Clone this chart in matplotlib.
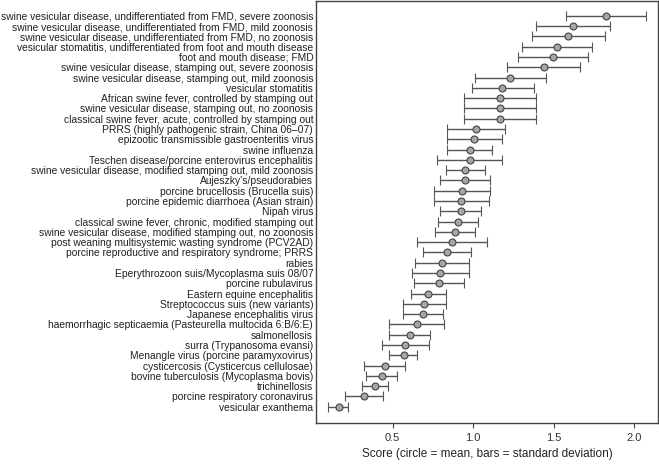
import numpy as np
import matplotlib
matplotlib.use("Agg")
import matplotlib.pyplot as plt

plt.rcParams['font.family'] = ['Liberation Sans', 'DejaVu Sans']

labels = [
    "swine vesicular disease, undifferentiated from FMD, severe zoonosis",
    "swine vesicular disease, undifferentiated from FMD, mild zoonosis",
    "swine vesicular disease, undifferentiated from FMD, no zoonosis",
    "vesicular stomatitis, undifferentiated from foot and mouth disease",
    "foot and mouth disease; FMD",
    "swine vesicular disease, stamping out, severe zoonosis",
    "swine vesicular disease, stamping out, mild zoonosis",
    "vesicular stomatitis",
    "African swine fever, controlled by stamping out",
    "swine vesicular disease, stamping out, no zoonosis",
    "classical swine fever, acute, controlled by stamping out",
    "PRRS (highly pathogenic strain, China 06\u201307)",
    "epizootic transmissible gastroenteritis virus",
    "swine influenza",
    "Teschen disease/porcine enterovirus encephalitis",
    "swine vesicular disease, modified stamping out, mild zoonosis",
    "Aujeszky's/pseudorabies",
    "porcine brucellosis (Brucella suis)",
    "porcine epidemic diarrhoea (Asian strain)",
    "Nipah virus",
    "classical swine fever, chronic, modified stamping out",
    "swine vesicular disease, modified stamping out, no zoonosis",
    "post weaning multisystemic wasting syndrome (PCV2AD)",
    "porcine reproductive and respiratory syndrome; PRRS",
    "rabies",
    "Eperythrozoon suis/Mycoplasma suis 08/07",
    "porcine rubulavirus",
    "Eastern equine encephalitis",
    "Streptococcus suis (new variants)",
    "Japanese encephalitis virus",
    "haemorrhagic septicaemia (Pasteurella multocida 6:B/6:E)",
    "salmonellosis",
    "surra (Trypanosoma evansi)",
    "Menangle virus (porcine paramyxovirus)",
    "cysticercosis (Cysticercus cellulosae)",
    "bovine tuberculosis (Mycoplasma bovis)",
    "trichinellosis",
    "porcine respiratory coronavirus",
    "vesicular exanthema",
]

# lower end of bar, mean, upper end of bar
low = [1.578, 1.392, 1.363, 1.305, 1.280, 1.212, 1.011, 0.991, 0.945, 0.945,
       0.945, 0.835, 0.835, 0.835, 0.777, 0.831, 0.796, 0.759, 0.755, 0.796,
       0.784, 0.765, 0.649, 0.690, 0.641, 0.622, 0.634, 0.612, 0.562, 0.562,
       0.479, 0.479, 0.435, 0.479, 0.324, 0.336, 0.311, 0.206, 0.100]
mean = [1.825, 1.620, 1.591, 1.520, 1.496, 1.440, 1.231, 1.181, 1.166, 1.166,
        1.166, 1.017, 1.007, 0.978, 0.978, 0.951, 0.948, 0.930, 0.926, 0.922,
        0.908, 0.887, 0.868, 0.837, 0.808, 0.796, 0.790, 0.721, 0.696, 0.686,
        0.649, 0.606, 0.578, 0.570, 0.450, 0.432, 0.392, 0.322, 0.165]
high = [2.071, 1.848, 1.821, 1.740, 1.715, 1.665, 1.454, 1.376, 1.390, 1.390,
        1.390, 1.199, 1.179, 1.119, 1.179, 1.075, 1.106, 1.104, 1.098, 1.050,
        1.032, 1.009, 1.088, 0.988, 0.976, 0.972, 0.945, 0.833, 0.833, 0.814,
        0.819, 0.732, 0.724, 0.653, 0.574, 0.529, 0.473, 0.442, 0.224]

mean = np.array(mean)
low = np.array(low)
high = np.array(high)
y = np.arange(len(labels))

fig = plt.figure(figsize=(6.59, 4.67), dpi=100)
ax = fig.add_axes([0.4795, 0.094, 0.5190, 0.904])

ax.errorbar(mean, y, xerr=[mean - low, high - mean], fmt='o', color='#555555',
            ecolor='#555555', elinewidth=1.0, capsize=3.5, capthick=1.0,
            markersize=5, markerfacecolor='#a6a6a6', markeredgecolor='#444444',
            markeredgewidth=0.8)

ax.set_yticks(y)
ax.set_yticklabels(labels, fontsize=7.35, color='#222222')
ax.tick_params(axis='y', length=0, pad=2)
ax.set_ylim(len(labels) - 1 + 1.6, -1.45)

ax.set_xlim(0.024, 2.148)
ax.set_xticks([0.5, 1.0, 1.5, 2.0])
ax.set_xticklabels(['0.5', '1.0', '1.5', '2.0'])
ax.tick_params(axis='x', labelsize=8, length=3.5, color='#444444', labelcolor='#333333')
ax.set_xlabel('Score (circle = mean, bars = standard deviation)', fontsize=8.5, color='#222222', labelpad=4)

for s in ax.spines.values():
    s.set_color('#444444')
    s.set_linewidth(1.0)

fig.savefig('out.png', dpi=100)
